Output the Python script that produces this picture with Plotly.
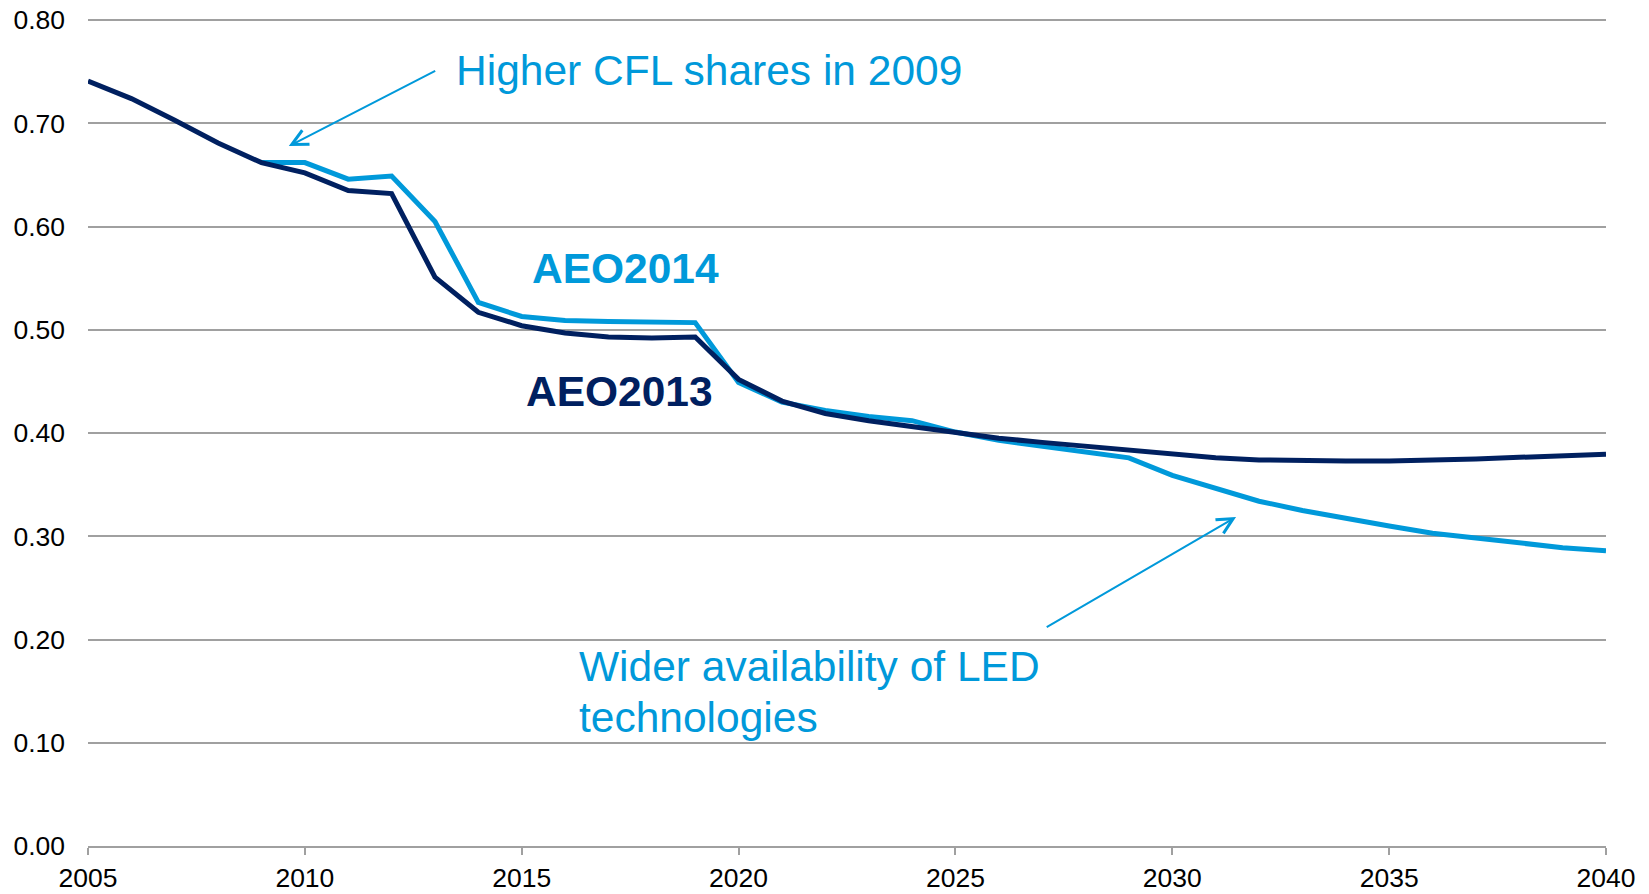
import plotly.graph_objects as go

years_2013 = list(range(2005, 2041))
aeo2013 = [0.741, 0.724, 0.703, 0.681, 0.662, 0.652, 0.635, 0.632, 0.551, 0.517,
           0.504, 0.497, 0.493, 0.492, 0.493, 0.452, 0.431, 0.419, 0.412, 0.406,
           0.400, 0.395, 0.391, 0.387, 0.383, 0.379, 0.376, 0.374, 0.373, 0.373,
           0.373, 0.3737, 0.375, 0.3765, 0.378, 0.3795]

years_2014 = list(range(2009, 2041))
aeo2014 = [0.662, 0.662, 0.646, 0.649, 0.605, 0.5265, 0.513, 0.509, 0.508, 0.508,
           0.507, 0.449, 0.430, 0.422, 0.416, 0.412, 0.401, 0.393, 0.387, 0.381,
           0.376, 0.359, 0.346, 0.334, 0.325, 0.317, 0.310, 0.303, 0.298, 0.293,
           0.289, 0.286]

x_ticks = [2005, 2010, 2015, 2020, 2025, 2030, 2035, 2040]
y_ticks = [0.0, 0.1, 0.2, 0.3, 0.4, 0.5, 0.6, 0.7, 0.8]

LIGHT = "#0099DA"
DARK = "#002060"
GRID = "#A0A0A0"
FONT = "Arial, Liberation Sans, sans-serif"
ANN = 42.5
TICK = 26.5

fig = go.Figure()
fig.add_trace(go.Scatter(x=years_2014, y=aeo2014, mode="lines", name="AEO2014",
                         line=dict(color=LIGHT, width=5)))
fig.add_trace(go.Scatter(x=years_2013, y=aeo2013, mode="lines", name="AEO2013",
                         line=dict(color=DARK, width=5)))

annotations = [
    dict(x=2013.45, y=0.7516, text="Higher CFL shares in 2009", xanchor="left", yanchor="middle",
         showarrow=False, font=dict(size=ANN, color=LIGHT, family=FONT)),
    dict(x=2015.18, y=0.5597, text="<b>AEO2014</b>", xanchor="left", yanchor="middle",
         showarrow=False, font=dict(size=ANN, color=LIGHT, family=FONT)),
    dict(x=2015.05, y=0.4403, text="<b>AEO2013</b>", xanchor="left", yanchor="middle",
         showarrow=False, font=dict(size=ANN, color=DARK, family=FONT)),
    dict(x=2016.27, y=0.1742, text="Wider availability of LED", xanchor="left", yanchor="middle",
         showarrow=False, font=dict(size=ANN, color=LIGHT, family=FONT)),
    dict(x=2016.27, y=0.1249, text="technologies", xanchor="left", yanchor="middle",
         showarrow=False, font=dict(size=ANN, color=LIGHT, family=FONT)),
    dict(x=2009.63, y=0.678, ax=2013.04, ay=0.7516, axref="x", ayref="y", text="",
         showarrow=True, arrowhead=5, arrowsize=1.55, arrowwidth=2, arrowcolor=LIGHT),
    dict(x=2031.47, y=0.3188, ax=2027.07, ay=0.2111, axref="x", ayref="y", text="",
         showarrow=True, arrowhead=5, arrowsize=1.55, arrowwidth=2, arrowcolor=LIGHT),
]

fig.update_layout(
    width=1649, height=894, autosize=False,
    margin=dict(l=88, r=43, t=15, b=48, autoexpand=False),
    paper_bgcolor="white", plot_bgcolor="white",
    showlegend=False,
    font=dict(family=FONT, color="black", size=TICK),
    annotations=annotations,
)
fig.update_xaxes(range=[2005, 2040], tickvals=x_ticks, ticktext=[str(v) for v in x_ticks],
                 showgrid=False, zeroline=False, showline=True, linecolor=GRID, linewidth=1.5,
                 ticks="outside", ticklen=7, tickwidth=1.5, tickcolor=GRID, automargin=False,
                 tickfont=dict(size=TICK, color="black", family=FONT), ticklabelstandoff=0)
fig.update_yaxes(range=[0, 0.805], tickvals=y_ticks, ticktext=[f"{v:.2f}" for v in y_ticks],
                 showgrid=True, gridcolor=GRID, gridwidth=1.5, zeroline=False, showline=False,
                 ticks="", automargin=False,
                 tickfont=dict(size=TICK, color="black", family=FONT), ticklabelstandoff=22)

fig.write_html("out.html", config={"displayModeBar": False},
               post_script="document.body.style.margin='0';document.body.style.overflow='hidden';")
